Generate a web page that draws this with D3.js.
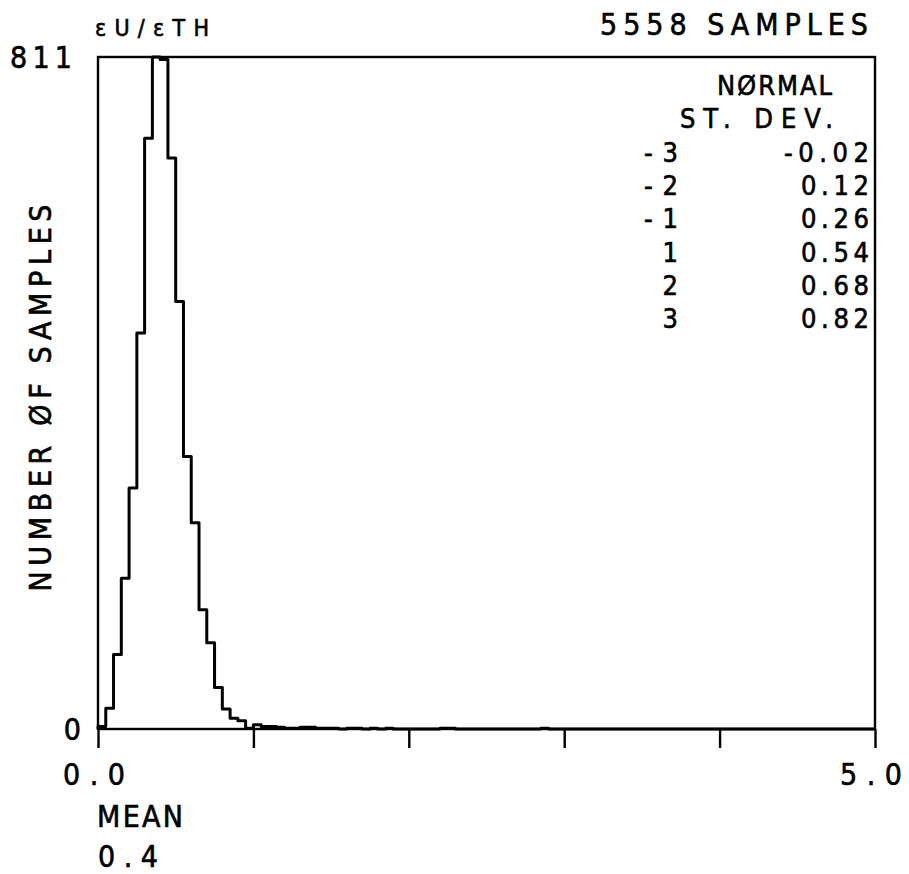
<!DOCTYPE html>
<html>
<head>
<meta charset="utf-8">
<script src="https://cdn.jsdelivr.net/npm/d3@7"></script>
<style>
html,body{margin:0;padding:0;background:#fff;}
svg{display:block;}
text{font-family:"DejaVu Sans","Liberation Sans",sans-serif;font-stretch:condensed;fill:#000;stroke:#000;stroke-width:0.6;}
</style>
</head>
<body>
<svg id="chart" width="909" height="874"></svg>
<script>
// ---- data ----
const binWidth = 0.05;
const counts = [
  3, 25, 90, 182, 291, 478, 713, 811, 808, 689,
  516, 329, 249, 144, 104, 50, 24, 13, 10, 1,
  5, 3, 3, 2, 1, 1, 2, 2, 1, 1,
  1, 0, 1, 1, 0, 1, 0, 1, 0, 0,
  0, 0, 0, 0, 1, 1, 0, 0, 0, 0,
  0, 0, 0, 0, 0, 0, 0, 1, 0, 0,
  0, 0, 0, 0, 0, 0, 0, 0, 0, 0,
  0, 0, 0, 0, 0, 0, 0, 0, 0, 0,
  0, 0, 0, 0, 0, 0, 0, 0, 0, 0,
  0, 0, 0, 0, 0, 0, 0, 0, 0, 0
];
const xTicks = [0, 1, 2, 3, 4, 5];
const xTickLabels = {0: "0.0", 5: "5.0"};
const yMax = 811;
const yTickLabels = [{v: 811, t: "811"}, {v: 0, t: "0"}];
const title = "εU/εTH";
const sampleText = "5558 SAMPLES";
const yLabel = "NUMBER ØF SAMPLES";
const meanLabel = "MEAN";
const meanValue = "0.4";
const legendHead1 = "NØRMAL";
const legendHead2 = "ST. DEV.";
const sdLevels = ["-3", "-2", "-1", "1", "2", "3"];
const sdValues = ["-0.02", "0.12", "0.26", "0.54", "0.68", "0.82"];

// ---- layout ----
const svg = d3.select("#chart");
const L = 98, R = 875, T = 57, B = 729;
const x = d3.scaleLinear().domain([0, 5]).range([L, R]);
const y = d3.scaleLinear().domain([0, yMax]).range([B, T]);

// histogram step outline
const pts = [[0, 0]];
counts.forEach((c, i) => {
  pts.push([i * binWidth, c]);
  pts.push([(i + 1) * binWidth, c]);
});
pts.push([counts.length * binWidth, 0]);
const line = d3.line().x(d => x(d[0])).y(d => y(d[1]));
svg.append("path").attr("d", line(pts))
  .attr("fill", "none").attr("stroke", "#000")
  .attr("stroke-width", 3).attr("stroke-linejoin", "round");

// frame
svg.append("rect").attr("x", L).attr("y", T).attr("width", R - L).attr("height", B - T)
  .attr("fill", "none").attr("stroke", "#000").attr("stroke-width", 2.4);

// x axis ticks
const xAxis = d3.axisBottom(x).tickValues(xTicks).tickSize(19).tickFormat("");
const gx = svg.append("g").attr("transform", `translate(0,${B})`).call(xAxis);
gx.select(".domain").remove();
gx.selectAll(".tick line").attr("stroke", "#000").attr("stroke-width", 2.4);

// x tick labels
svg.selectAll(".xlab").data(xTicks.filter(d => xTickLabels[d] !== undefined))
  .enter().append("text").attr("class", "xlab")
  .attr("x", d => x(d) - 4).attr("y", 785)
  .attr("text-anchor", "middle").attr("font-size", 30)
  .attr("textLength", 62).attr("lengthAdjust", "spacing")
  .text(d => xTickLabels[d]);

// y tick labels
svg.selectAll(".ylab").data(yTickLabels).enter().append("text").attr("class", "ylab")
  .attr("x", d => d.t.length > 1 ? 72 : 81)
  .attr("y", d => y(d.v) + 11)
  .attr("text-anchor", "end").attr("font-size", 30)
  .attr("textLength", d => d.t.length > 1 ? 62 : 16).attr("lengthAdjust", "spacing")
  .text(d => d.t);

// y axis title
svg.append("text").attr("transform", "translate(51,398) rotate(-90)")
  .attr("text-anchor", "middle").attr("font-size", 30)
  .attr("textLength", 387).attr("lengthAdjust", "spacing")
  .text(yLabel);

// top texts
svg.append("text").attr("x", 95).attr("y", 36).attr("font-size", 23)
  .attr("textLength", 114).attr("lengthAdjust", "spacing").text(title);
svg.append("text").attr("x", 600).attr("y", 35).attr("font-size", 30)
  .attr("textLength", 268).attr("lengthAdjust", "spacing").text(sampleText);

// mean
svg.append("text").attr("x", 97).attr("y", 827).attr("font-size", 30)
  .attr("textLength", 86).attr("lengthAdjust", "spacing").text(meanLabel);
svg.append("text").attr("x", 98).attr("y", 867).attr("font-size", 30)
  .attr("textLength", 60).attr("lengthAdjust", "spacing").text(meanValue);

// legend
svg.append("text").attr("x", 717).attr("y", 95).attr("font-size", 27)
  .attr("textLength", 115).attr("lengthAdjust", "spacing").text(legendHead1);
svg.append("text").attr("x", 680).attr("y", 128).attr("font-size", 27)
  .attr("textLength", 153).attr("lengthAdjust", "spacing").text(legendHead2);
const rowY = d3.scalePoint().domain(d3.range(sdLevels.length)).range([162, 328]);
sdLevels.forEach((lv, i) => {
  svg.append("text").attr("x", 678).attr("y", rowY(i)).attr("font-size", 27)
    .attr("text-anchor", "end")
    .attr("textLength", lv.length * 17).attr("lengthAdjust", "spacing").text(lv);
  svg.append("text").attr("x", 869).attr("y", rowY(i)).attr("font-size", 27)
    .attr("text-anchor", "end")
    .attr("textLength", sdValues[i].length * 17).attr("lengthAdjust", "spacing").text(sdValues[i]);
});
</script>
</body>
</html>
